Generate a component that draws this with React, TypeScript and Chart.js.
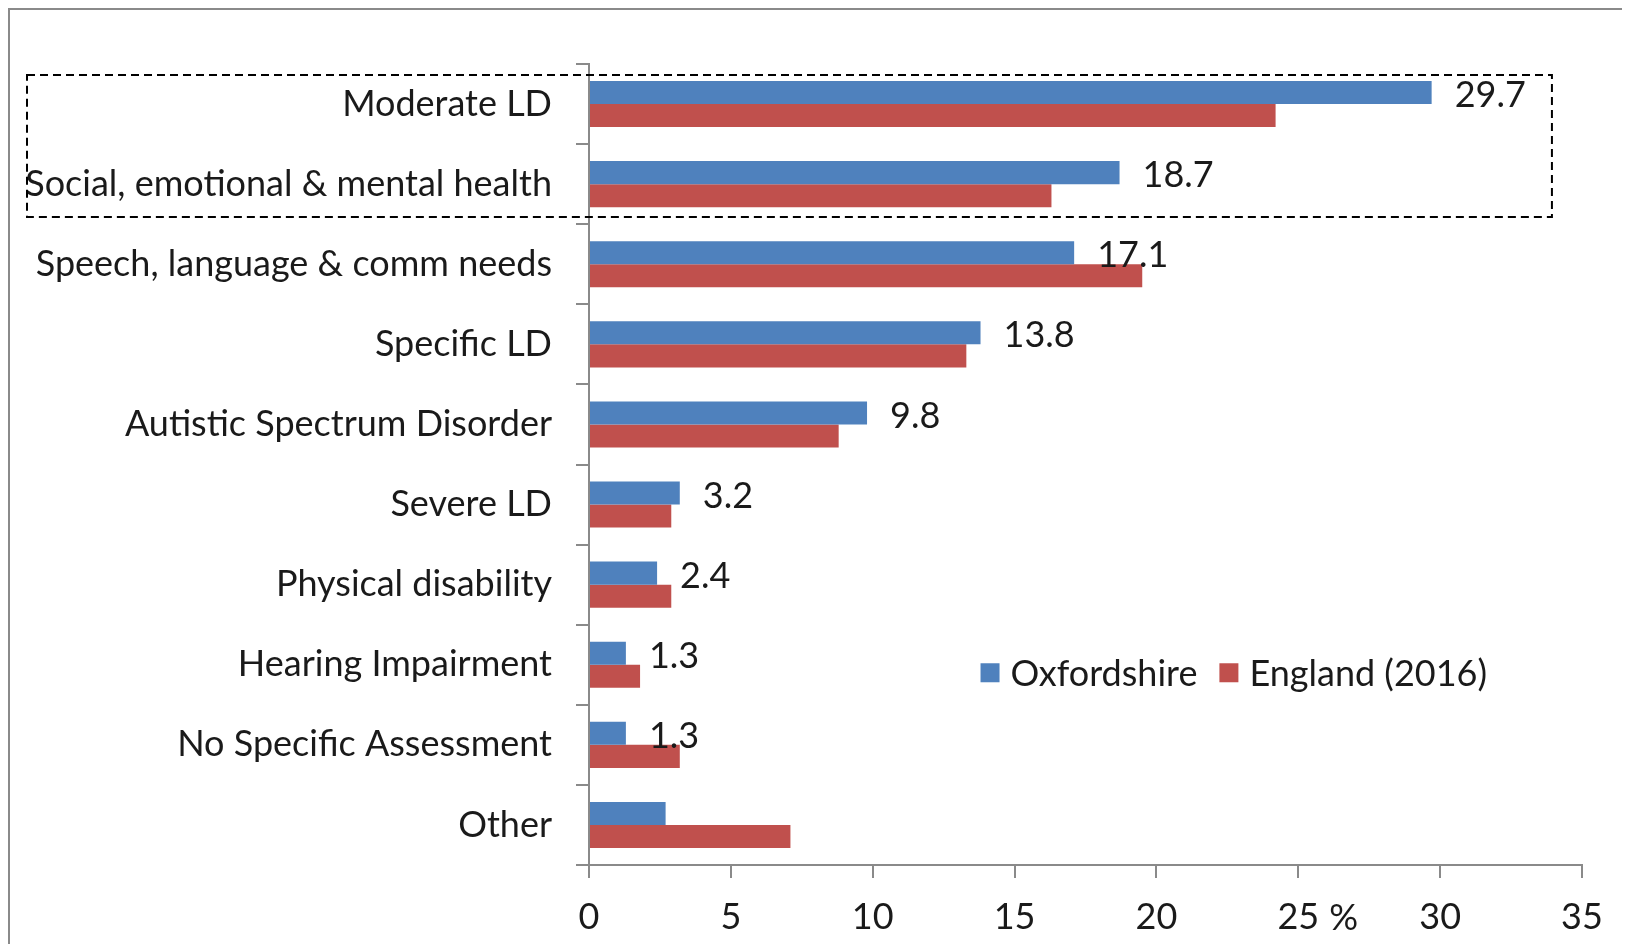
import React, { useEffect, useRef } from "react";
import { Chart, registerables } from "chart.js";

Chart.register(...registerables);

const categories = [
  "Moderate LD",
  "Social, emotional & mental health",
  "Speech, language & comm needs",
  "Specific LD",
  "Autistic Spectrum Disorder",
  "Severe LD",
  "Physical disability",
  "Hearing Impairment",
  "No Specific Assessment",
  "Other",
];
const oxfordshire = [29.7, 18.7, 17.1, 13.8, 9.8, 3.2, 2.4, 1.3, 1.3, 2.7];
const england = [24.2, 16.3, 19.5, 13.3, 8.8, 2.9, 2.9, 1.8, 3.2, 7.1];
const oxfordshireLabels: (string | null)[] = ["29.7", "18.7", "17.1", "13.8", "9.8", "3.2", "2.4", "1.3", "1.3", null];
const seriesNames = ["Oxfordshire", "England (2016)"];
const xMin = 0;
const xMax = 35;
const xStep = 5;
const unitTick = 25;
const unitLabel = "%";
const highlighted = ["Moderate LD", "Social, emotional & mental health"];

const FONT = "Lato, 'Open Sans', sans-serif";
const FONT_SIZE = 36;
const TEXT = "#1a1a1a";
const AXIS = "#8a8a8a";
const BLUE = "#4F81BD";
const RED = "#C0504D";

const overlayPlugin = {
  id: "overlay",
  afterDatasetsDraw(chart: any) {
    const ctx = chart.ctx;
    const xs = chart.scales.x;
    const ys = chart.scales.y;
    ctx.save();
    ctx.font = `${FONT_SIZE}px ${FONT}`;
    ctx.fillStyle = TEXT;
    ctx.textBaseline = "middle";
    ctx.textAlign = "left";
    // data labels for first series
    const meta = chart.getDatasetMeta(0);
    meta.data.forEach((bar: any, i: number) => {
      const lbl = oxfordshireLabels[i];
      if (!lbl) return;
      ctx.fillText(lbl, bar.x + 23, bar.y + 3);
    });
    // legend
    const lx = xs.getPixelForValue(13.8);
    const ly = ys.getPixelForValue(7.1);
    let cx = lx;
    const colors = [BLUE, RED];
    seriesNames.forEach((name, i) => {
      ctx.fillStyle = colors[i];
      ctx.fillRect(cx, ly - 9.5, 19, 19);
      ctx.fillStyle = TEXT;
      ctx.fillText(name, cx + 30, ly + 2);
      cx += 30 + ctx.measureText(name).width + 22;
    });
    // dashed highlight box
    const i0 = categories.indexOf(highlighted[0]);
    const i1 = categories.indexOf(highlighted[highlighted.length - 1]);
    const top = ys.getPixelForValue(i0 - 0.363);
    const bottom = ys.getPixelForValue(i1 + 0.41);
    const right = xs.getPixelForValue(33.94);
    const left = 17;
    ctx.strokeStyle = "#000";
    ctx.lineWidth = 2;
    ctx.setLineDash([8, 5]);
    ctx.strokeRect(left, top, right - left, bottom - top);
    ctx.restore();
  },
  afterDraw(chart: any) {
    const ctx = chart.ctx;
    const xs = chart.scales.x;
    ctx.save();
    ctx.font = `${FONT_SIZE}px ${FONT}`;
    ctx.fillStyle = TEXT;
    ctx.textBaseline = "middle";
    ctx.textAlign = "left";
    const px = xs.getPixelForValue(unitTick);
    const w = ctx.measureText(String(unitTick)).width;
    ctx.fillText(unitLabel, px + w / 2 + 10, xs.bottom - 26);
    ctx.restore();
  },
};

export default function App() {
  const ref = useRef<HTMLCanvasElement>(null);
  useEffect(() => {
    if (!ref.current) return;
    const chart = new Chart(ref.current, {
      type: "bar",
      data: {
        labels: categories,
        datasets: [
          { label: seriesNames[0], data: oxfordshire, backgroundColor: BLUE, borderWidth: 0 },
          { label: seriesNames[1], data: england, backgroundColor: RED, borderWidth: 0 },
        ],
      },
      options: {
        indexAxis: "y",
        responsive: true,
        maintainAspectRatio: false,
        animation: false,
        layout: { padding: { left: 0, right: 48, top: 54, bottom: 0 } },
        datasets: { bar: { barPercentage: 1, categoryPercentage: 0.575 } },
        plugins: {
          legend: { display: false },
          tooltip: { enabled: false },
        },
        scales: {
          x: {
            type: "linear",
            min: xMin,
            max: xMax,
            ticks: {
              stepSize: xStep,
              color: TEXT,
              font: { family: FONT, size: FONT_SIZE },
              padding: 18,
            },
            grid: { drawOnChartArea: false, drawTicks: true, tickLength: 13, color: AXIS, lineWidth: 2 },
            border: { color: AXIS, width: 2 },
            afterFit: (s: any) => {
              s.height = 79;
            },
          },
          y: {
            type: "category",
            ticks: {
              color: TEXT,
              font: { family: FONT, size: FONT_SIZE },
              padding: 24,
              autoSkip: false,
            },
            grid: { offset: true, drawOnChartArea: false, drawTicks: true, tickLength: 13, color: AXIS, lineWidth: 2 },
            border: { color: AXIS, width: 2 },
            afterFit: (s: any) => {
              s.width = 579;
            },
          },
        },
      },
      plugins: [overlayPlugin],
    });
    return () => chart.destroy();
  }, []);
  return (
    <div
      style={{
        width: 1620,
        height: 934,
        borderTop: `2px solid ${AXIS}`,
        borderLeft: `2px solid ${AXIS}`,
        position: "relative",
        background: "#fff",
      }}
    >
      <canvas ref={ref} />
    </div>
  );
}
